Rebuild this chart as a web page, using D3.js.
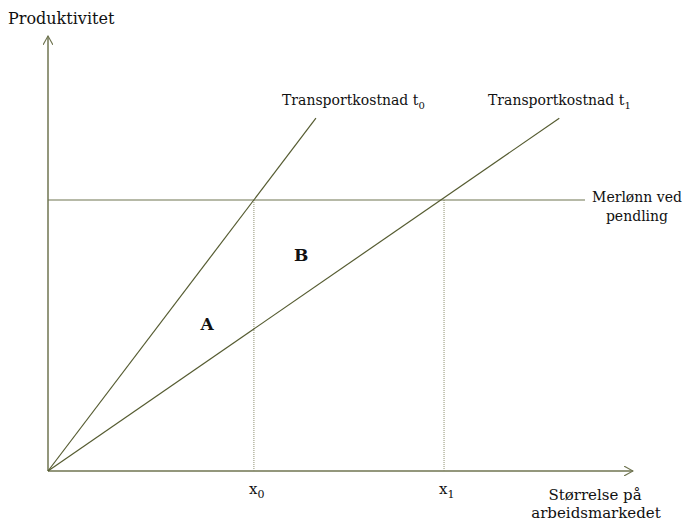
<!DOCTYPE html>
<html>
<head>
<meta charset="utf-8">
<script src="https://cdn.jsdelivr.net/npm/d3@7"></script>
<style>
  body { margin: 0; background: #fff; }
  text { font-family: "DejaVu Serif", "Liberation Serif", serif; fill: #111; }
</style>
</head>
<body>
<svg id="chart" width="687" height="522"></svg>
<script>
// values in chart units (0..100 on both axes)
const wageLevel = 62.3            // Merlønn ved pendling
const xTicks = [35.2, 67.7]       // x0, x1
const xTickLabels = ['x', 'x']
const xTickSubs = ['0', '1']
const costLines = [
    { name: 'Transportkostnad t', sub: '0', end: [45.8, 81.1] },
    { name: 'Transportkostnad t', sub: '1', end: [87.4, 81.1] }
]
const wageLineEnd = 91.8
const areaLabels = [
    { label: 'A', x: 27.2, y: 33.8 },
    { label: 'B', x: 43.3, y: 49.7 }
]

const svg = d3.select('#chart')
const axisColor = '#6f7450'
const lineColor = '#555b30'

const x = d3.scaleLinear().domain([0, 100]).range([48, 633])
const y = d3.scaleLinear().domain([0, 100]).range([471, 36])

// arrow heads
const defs = svg.append('defs')
defs.append('marker')
    .attr('id', 'arrow')
    .attr('viewBox', '0 0 10 10')
    .attr('refX', 9).attr('refY', 5)
    .attr('markerWidth', 10).attr('markerHeight', 10)
    .attr('markerUnits', 'userSpaceOnUse')
    .attr('orient', 'auto')
    .append('path')
    .attr('d', 'M0,0 L9,5 L0,10')
    .attr('fill', 'none')
    .attr('stroke', axisColor)
    .attr('stroke-width', 1.1)

// axes
svg.append('line')
    .attr('x1', x(0)).attr('y1', y(0))
    .attr('x2', x(0)).attr('y2', y(100))
    .attr('stroke', axisColor).attr('stroke-width', 1.5)
    .attr('marker-end', 'url(#arrow)')
svg.append('line')
    .attr('x1', x(0)).attr('y1', y(0))
    .attr('x2', x(100)).attr('y2', y(0))
    .attr('stroke', axisColor).attr('stroke-width', 1.5)
    .attr('marker-end', 'url(#arrow)')

// dotted verticals
svg.selectAll('.drop')
    .data(xTicks)
    .enter()
    .append('line')
    .attr('class', 'drop')
    .attr('x1', d => x(d)).attr('x2', d => x(d))
    .attr('y1', y(wageLevel)).attr('y2', y(0))
    .attr('stroke', '#8c8e6e')
    .attr('stroke-width', 1)
    .attr('stroke-dasharray', '1,1')

// wage line
svg.append('line')
    .attr('x1', x(0)).attr('x2', x(wageLineEnd))
    .attr('y1', y(wageLevel)).attr('y2', y(wageLevel))
    .attr('stroke', axisColor).attr('stroke-width', 1.2)

// transport cost lines
svg.selectAll('.cost')
    .data(costLines)
    .enter()
    .append('line')
    .attr('class', 'cost')
    .attr('x1', x(0)).attr('y1', y(0))
    .attr('x2', d => x(d.end[0])).attr('y2', d => y(d.end[1]))
    .attr('stroke', lineColor).attr('stroke-width', 1.2)

// line labels
costLines.forEach((d, i) => {
    const t = svg.append('text')
        .attr('x', i === 0 ? 282 : 488)
        .attr('y', 105)
        .attr('font-size', 14)
    t.append('tspan').text(d.name)
    t.append('tspan').attr('dy', 4).attr('font-size', 10).text(d.sub)
})

// axis titles
svg.append('text').attr('x', 8).attr('y', 24).attr('font-size', 16).text('Produktivitet')
svg.append('text').attr('x', 595).attr('y', 500).attr('font-size', 15)
    .attr('text-anchor', 'middle').text('Størrelse på')
svg.append('text').attr('x', 596).attr('y', 518).attr('font-size', 15)
    .attr('text-anchor', 'middle').text('arbeidsmarkedet')

svg.append('text').attr('x', 637).attr('y', 202).attr('font-size', 14)
    .attr('text-anchor', 'middle').text('Merlønn ved')
svg.append('text').attr('x', 637).attr('y', 221).attr('font-size', 14)
    .attr('text-anchor', 'middle').text('pendling')

// x tick labels
xTicks.forEach((d, i) => {
    const t = svg.append('text')
        .attr('x', x(d) - 5)
        .attr('y', 494)
        .attr('font-size', 15)
    t.append('tspan').text(xTickLabels[i])
    t.append('tspan').attr('dy', 4).attr('font-size', 11).text(xTickSubs[i])
})

// area labels
svg.selectAll('.area')
    .data(areaLabels)
    .enter()
    .append('text')
    .attr('class', 'area')
    .attr('x', d => x(d.x)).attr('y', d => y(d.y))
    .attr('text-anchor', 'middle')
    .attr('dominant-baseline', 'central')
    .attr('font-size', 17)
    .attr('font-weight', 'bold')
    .text(d => d.label)
</script>
</body>
</html>
